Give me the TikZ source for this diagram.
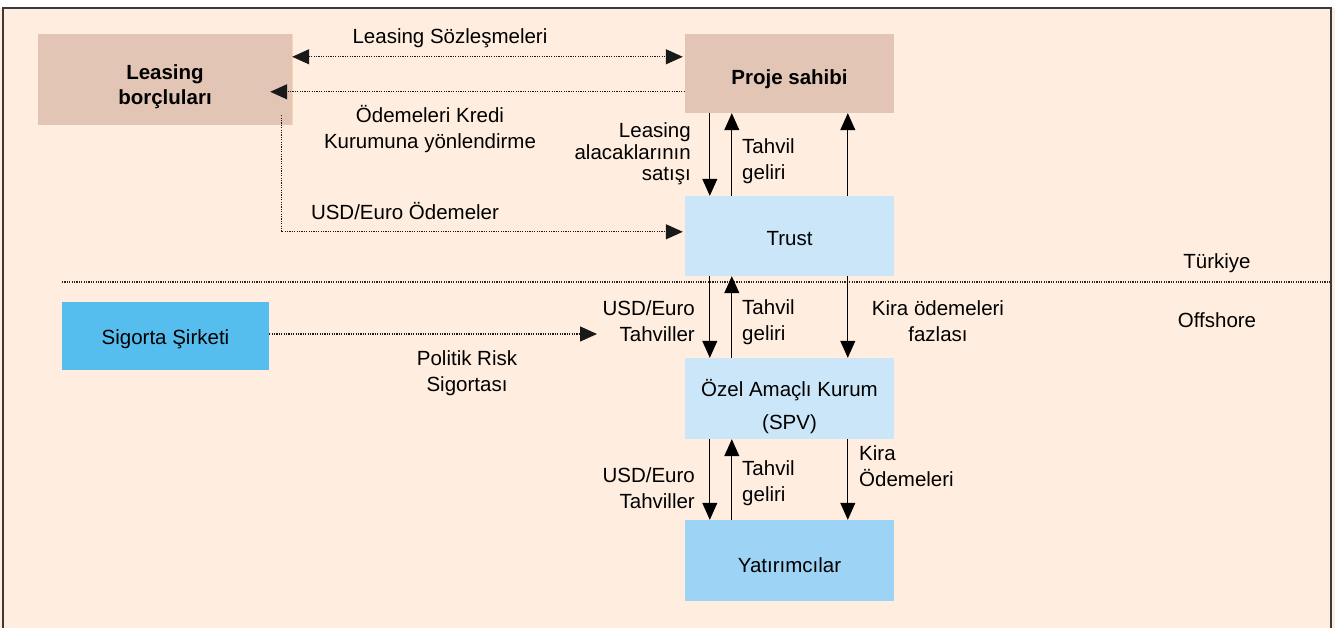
\documentclass[tikz,border=0pt]{standalone}
\usepackage{fontspec}
\setmainfont{Liberation Sans}
\usetikzlibrary{arrows.meta}
\definecolor{cream}{HTML}{FFEEDF}
\definecolor{rosy}{HTML}{E3C5B5}
\definecolor{lblue}{HTML}{CBE6F8}
\definecolor{mblue}{HTML}{9DD4F5}
\definecolor{sblue}{HTML}{56BEEE}
\definecolor{framec}{HTML}{3A3A3A}
\definecolor{edgeor}{HTML}{F8D8A8}
\newcommand\dfont{\fontsize{20.5}{25.5}\selectfont}
\tikzset{
  box/.style={rectangle, inner sep=0pt},
  lbl/.style={inner sep=0pt, font=\dfont, text=black},
  tip/.tip={Triangle[width=15pt,length=17pt]},
  arr/.style={line width=1pt, black, -tip},
  dotarr/.style={line width=1.3pt, black!90, dash pattern=on 1.2pt off 1.2pt, -tip},
  dotline/.style={line width=1.3pt, black!85, dash pattern=on 1.2pt off 1.2pt}
}
\begin{document}
\begin{tikzpicture}[x=1pt,y=-1pt]
\useasboundingbox (0,0) rectangle (1335,628);
\fill[cream] (0,0) rectangle (1335,628);
\fill[white] (0,0) rectangle (1335,8);
\draw[framec, line width=1.5pt] (3,628) -- (3,8) -- (1331,8) -- (1331,628);

% boxes
\node[box, fill=rosy, minimum width=254pt, minimum height=91pt] (lb) at (165,79.5) {};
\draw[edgeor, line width=1pt] (lb.north east) -- (lb.south east);
\node[box, fill=rosy, minimum width=209pt, minimum height=79pt] (pr) at (789.5,73.5) {};
\node[box, fill=lblue, minimum width=209pt, minimum height=80pt] (tr) at (789.5,236) {};
\node[box, fill=lblue, minimum width=209pt, minimum height=81pt] (spv) at (789.5,398.5) {};
\node[box, fill=mblue, minimum width=209pt, minimum height=81pt] (yat) at (789.5,560.5) {};
\node[box, fill=sblue, minimum width=207pt, minimum height=68pt] (sg) at (165.5,336) {};

% box texts
\node[lbl, align=center, font=\dfont\bfseries] (lbt) at ([yshift=-7pt]lb.center) {Leasing\\borçluları};
\node[lbl, font=\dfont\bfseries] (prt) at ([yshift=-6pt]pr.center) {Proje sahibi};
\node[lbl] (trt) at ([yshift=-3pt]tr.center) {Trust};
\node[lbl, align=center] (spvt) at ([yshift=-8pt]spv.center) {Özel Amaçlı Kurum\\[7pt](SPV)};
\node[lbl] (yatt) at ([yshift=-5pt]yat.center) {Yatırımcılar};
\node[lbl] (sgt) at ([yshift=-3pt]sg.center) {Sigorta Şirketi};

% separator
\coordinate (sepL) at (62,282);
\coordinate (sepR) at (1331,282);
\draw[dotline] (sepL) -- (sepR);

% dotted connectors
\draw[dotarr, tip-tip] ([yshift=-23pt]lb.north east) -- ([xshift=-2pt,yshift=-23pt]pr.north west);
\draw[dotarr] ([yshift=-58pt]pr.north west) -- ([xshift=-22pt,yshift=-58pt]lb.north east);
\draw[dotarr] ([xshift=-11pt,yshift=10pt]lb.south east) |- ([xshift=-2pt,yshift=-36pt]tr.north west);
\coordinate (pe) at (597,334);
\draw[dotarr] ([yshift=2pt]sg.east) -- (pe);

% solid arrows
\draw[arr] ([xshift=25pt]pr.south west) -- ([xshift=25pt]tr.north west);
\draw[arr] ([xshift=47pt]tr.north west) -- ([xshift=47pt]pr.south west);
\draw[arr] ([xshift=163pt]tr.north west) -- ([xshift=163pt]pr.south west);
\draw[arr] ([xshift=25pt]tr.south west) -- ([xshift=25pt]spv.north west);
\draw[arr] ([xshift=47pt]spv.north west) -- ([xshift=47pt]tr.south west);
\draw[arr] ([xshift=163pt]tr.south west) -- ([xshift=163pt]spv.north west);
\draw[arr] ([xshift=25pt]spv.south west) -- ([xshift=25pt]yat.north west);
\draw[arr] ([xshift=47pt]yat.north west) -- ([xshift=47pt]spv.south west);
\draw[arr] ([xshift=163pt]spv.south west) -- ([xshift=163pt]yat.north west);

% labels
\node[lbl] (ls) at (450,38) {Leasing Sözleşmeleri};
\node[lbl, align=center] (ok) at (430,129) {Ödemeleri Kredi\\Kurumuna yönlendirme};
\node[lbl] (ue) at (405,211) {USD/Euro Ödemeler};
\node[lbl, align=right, anchor=east, font=\fontsize{20.5}{21.5}\selectfont] (lal) at (691,154) {Leasing\\alacaklarının\\satışı};
\node[lbl, align=left, anchor=west] (tg1) at (742,161) {Tahvil\\geliri};
\node[lbl, align=right, anchor=east] (ut1) at (695,321) {USD/Euro\\Tahviller};
\node[lbl, align=left, anchor=west] (tg2) at (742,322) {Tahvil\\geliri};
\node[lbl, align=center] (ko) at (938,321) {Kira ödemeleri\\fazlası};
\node[lbl, align=center] (prs) at (467,373) {Politik Risk\\Sigortası};
\node[lbl, align=right, anchor=east] (ut2) at (695,488) {USD/Euro\\Tahviller};
\node[lbl, align=left, anchor=west] (tg3) at (742,483) {Tahvil\\geliri};
\node[lbl, align=left, anchor=west] (ki) at (859,466) {Kira\\Ödemeleri};
\node[lbl] (tk) at (1217,263) {Türkiye};
\node[lbl] (of) at (1217,320) {Offshore};
\end{tikzpicture}
\end{document}
